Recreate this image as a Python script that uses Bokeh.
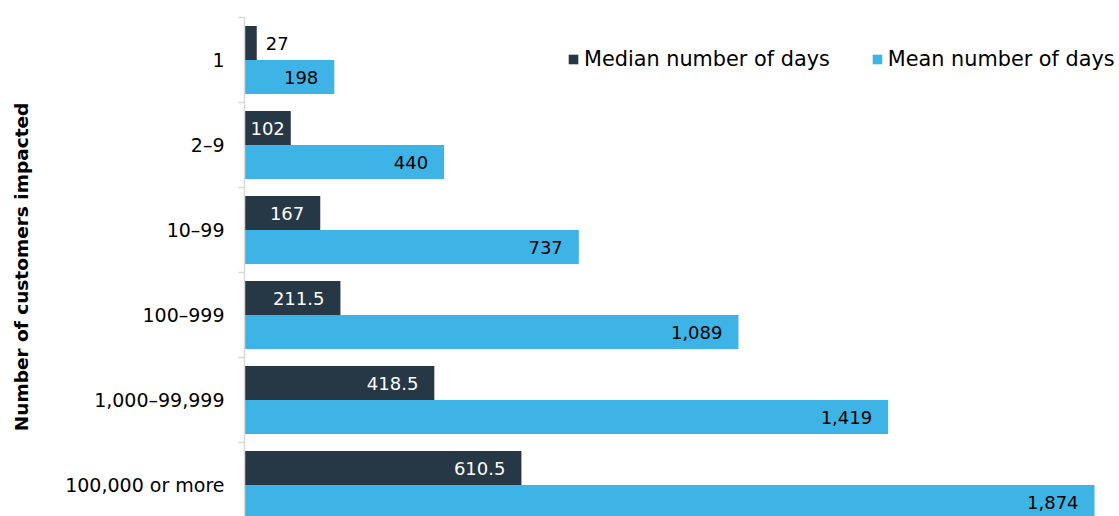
from bokeh.plotting import figure
from bokeh.models import ColumnDataSource, Range1d, FixedTicker, Legend, LegendItem
from bokeh.core.properties import value
from bokeh.embed import file_html
from bokeh.resources import INLINE

categories = ["1", "2–9", "10–99", "100–999", "1,000–99,999", "100,000 or more"]
median_days = [27, 102, 167, 211.5, 418.5, 610.5]
mean_days = [198, 440, 737, 1089, 1419, 1874]
median_labels = ["27", "102", "167", "211.5", "418.5", "610.5"]
mean_labels = ["198", "440", "737", "1,089", "1,419", "1,874"]

DARK = "#263746"
LIGHT = "#3db4e5"
FONT = "DejaVu Sans"

W, H = 1119, 516
LEFT, TOP = 244, 17
X_END = 1929
PX = (W - LEFT) / X_END

n = len(categories)
pos = [i + 0.5 for i in range(n)]


def label_layout(vals, base_color):
    xs, aligns, offs, cols = [], [], [], []
    for v in vals:
        w = v * PX
        if w < 20:
            xs.append(v); aligns.append("left"); offs.append(9); cols.append("#000000")
        elif w < 70:
            xs.append(v / 2); aligns.append("center"); offs.append(0); cols.append(base_color)
        else:
            xs.append(v); aligns.append("right"); offs.append(-16); cols.append(base_color)
    return xs, aligns, offs, cols


mx, ma, mo, mc = label_layout(median_days, "#ffffff")
ax_, aa, ao, ac = label_layout(mean_days, "#000000")

src_med = ColumnDataSource(dict(y=[p - 0.2 for p in pos], v=median_days, lab=median_labels,
                                lx=mx, al=ma, off=mo, col=mc))
src_mean = ColumnDataSource(dict(y=[p + 0.2 for p in pos], v=mean_days, lab=mean_labels,
                                 lx=ax_, al=aa, off=ao, col=ac))

p = figure(width=W, height=H, output_backend="svg", toolbar_location=None,
           x_range=Range1d(0, X_END), y_range=Range1d(start=5.87, end=0),
           min_border_left=LEFT, min_border_right=0, min_border_top=TOP, min_border_bottom=0)
p.outline_line_color = None
p.xgrid.visible = False
p.ygrid.visible = False
p.xaxis.visible = False

r_med = p.hbar(y="y", right="v", left=0, height=0.4, source=src_med, fill_color=DARK, line_color=None)
r_mean = p.hbar(y="y", right="v", left=0, height=0.4, source=src_mean, fill_color=LIGHT, line_color=None)

for src in (src_med, src_mean):
    p.text(x="lx", y="y", text="lab", source=src, text_align="al", x_offset="off",
           text_baseline="middle", text_color="col", text_font=value(FONT), text_font_size="18px")

yax = p.yaxis[0]
yax.ticker = FixedTicker(ticks=pos, minor_ticks=list(range(n + 1)))
yax.major_label_overrides = {pos[i]: categories[i] for i in range(n)}
yax.axis_line_color = "#d9d9d9"
yax.axis_line_width = 1.5
yax.major_tick_out = 0
yax.major_tick_in = 0
yax.minor_tick_out = 6
yax.minor_tick_in = 0
yax.minor_tick_line_color = "#d9d9d9"
yax.minor_tick_line_width = 1.5
yax.major_label_standoff = 14
yax.major_label_text_font = FONT
yax.major_label_text_font_size = "19px"
yax.major_label_text_color = "#000000"
yax.axis_label = "Number of customers impacted"
yax.axis_label_text_font = FONT
yax.axis_label_text_font_style = "bold"
yax.axis_label_text_font_size = "18.5px"
yax.axis_label_text_color = "#000000"
yax.axis_label_standoff = 30

legend = Legend(items=[LegendItem(label="Median number of days", renderers=[r_med]),
                       LegendItem(label="Mean number of days", renderers=[r_mean])],
                orientation="horizontal",
                label_text_font=FONT, label_text_font_size="20.8px", label_text_color="#000000",
                glyph_width=12, glyph_height=12, spacing=41, label_standoff=5,
                border_line_color=None, background_fill_alpha=0, margin=0, padding=0)
legend.location = (323, 445)
p.add_layout(legend)

open("out.html", "w").write(file_html(p, INLINE))
